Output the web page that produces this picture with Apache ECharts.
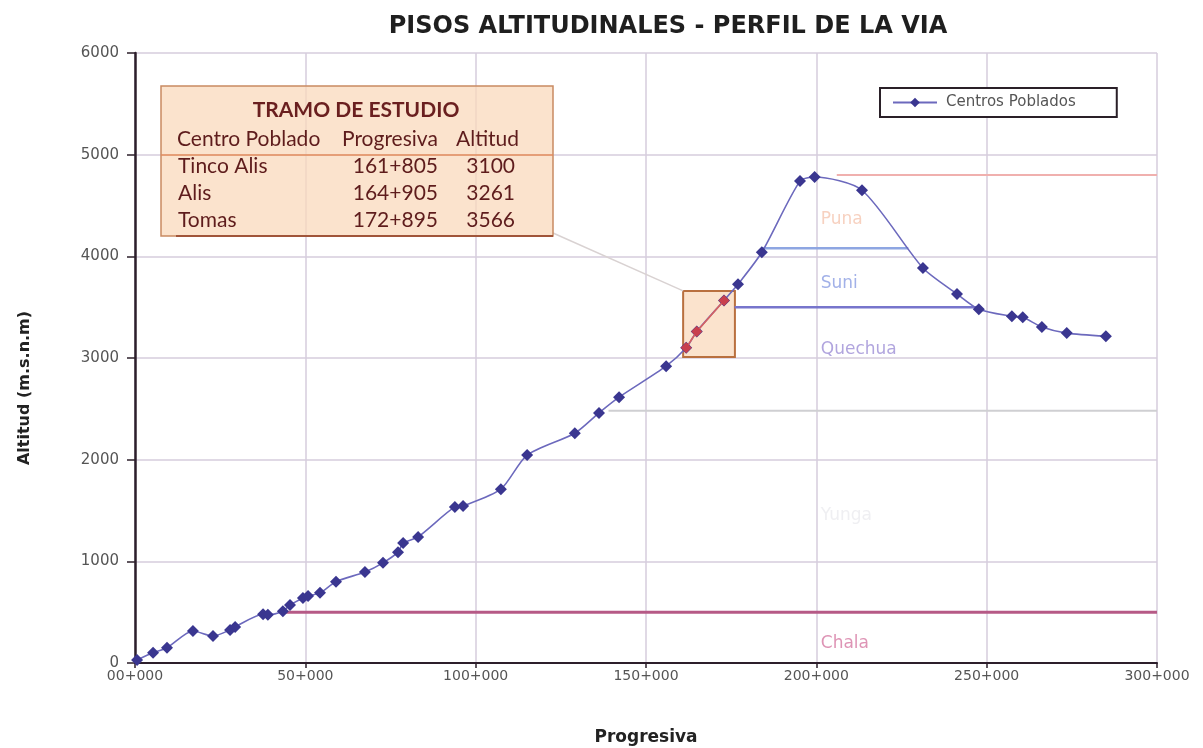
<!DOCTYPE html>
<html>
<head>
<meta charset="utf-8">
<script src="https://cdn.jsdelivr.net/npm/echarts@6/dist/echarts.min.js"></script>
<style>
html,body{margin:0;padding:0;background:#fff;}
#chart{width:1203px;height:748px;}
</style>
</head>
<body>
<div id="chart"></div>
<script>
// ---- data ----
const progresiva = [600, 5300, 9400, 17000, 22900, 27900, 29400, 37600, 39000, 43400, 45500, 49300, 50800, 54300, 59000, 67500, 72800, 77200, 78700, 83100, 93900, 96300, 107400, 115100, 129100, 136200, 142100, 155900, 161805, 164905, 172895, 177000, 184000, 195200, 199500, 213400, 231300, 241300, 247700, 257400, 260600, 266200, 273500, 285000];
const altitud    = [30, 100, 150, 315, 265, 325, 355, 480, 475, 510, 570, 640, 660, 690, 800, 895, 985, 1090, 1180, 1240, 1535, 1545, 1710, 2045, 2260, 2460, 2615, 2920, 3100, 3261, 3566, 3725, 4040, 4740, 4780, 4650, 3885, 3630, 3480, 3410, 3400, 3305, 3245, 3215];

const tramoCentro = ['Tinco Alis', 'Alis', 'Tomas'];
const tramoProgresiva = ['161+805', '164+905', '172+895'];
const tramoAltitud = [3100, 3261, 3566];

const zoneNames = ['Chala', 'Yunga', 'Quechua', 'Suni', 'Puna'];
const zoneAlt   = [500, 2480, 3500, 4080, 4800];
const zoneFrom  = [43000, 139000, 176000, 184000, 206000];
const zoneTo    = [300000, 300000, 248000, 227000, 300000];
const zoneLabelAlt = [190, 1450, 3080, 3730, 4360];

const xTicks = [0, 50000, 100000, 150000, 200000, 250000, 300000];

// ---- styles ----
const zoneLineColors = ['#b65a86', '#cfcfd2', '#7775cc', '#8ea6e2', '#f0b0ae'];
const zoneLineWidths = [3, 2, 2.5, 2.5, 2];
const zoneTextColors = ['#d679a3', '#ebebef', '#9d8fd6', '#8b9ee2', '#f5c6b0'];

const parseProg = s => { const p = s.split('+'); return Number(p[0]) * 1000 + Number(p[1]); };
const fmtProg = v => { const km = Math.round(v / 1000); return (km < 10 ? '0' + km : '' + km) + '+000'; };

const chart = echarts.init(document.getElementById('chart'));

const series = [];
zoneNames.forEach((n, i) => {
  series.push({
    name: n, type: 'line', symbol: 'none', silent: true, z: 2,
    lineStyle: { color: zoneLineColors[i], width: zoneLineWidths[i] },
    data: [[zoneFrom[i], zoneAlt[i]], [zoneTo[i], zoneAlt[i]]]
  });
});
series.push({
  name: 'zoneLabels', type: 'scatter', symbolSize: 0, silent: true, z: 3,
  data: zoneNames.map((n, i) => ({
    value: [201300, zoneLabelAlt[i]],
    label: { show: true, position: 'right', distance: 0, formatter: n,
      color: zoneTextColors[i], fontSize: 17, fontFamily: 'DejaVu Sans' }
  }))
});
series.push({
  name: 'Centros Poblados', type: 'line', smooth: 0.25, z: 5,
  symbol: 'diamond', symbolSize: 12,
  itemStyle: { color: '#3a3690' },
  lineStyle: { color: '#6c69bd', width: 1.6 },
  data: progresiva.map((p, i) => [p, altitud[i]])
});
series.push({
  name: 'Tramo', type: 'line', z: 6,
  symbol: 'diamond', symbolSize: 11,
  itemStyle: { color: '#c8404e' },
  lineStyle: { color: '#d9605e', width: 1.6 },
  data: tramoProgresiva.map((p, i) => [parseProg(p), tramoAltitud[i]]),
  markArea: {
    silent: true,
    itemStyle: { color: 'rgba(250,218,188,0.75)', borderColor: '#b9703f', borderWidth: 2 },
    data: [[{ coord: [160900, 3010] }, { coord: [176100, 3660] }]]
  }
});

const tableFont = '21px Lato';
const tcol = '#5e1c1c';
const graphic = [
  { type: 'text', z: 22, x: 25, y: 388, rotation: Math.PI / 2,
    style: { text: 'Altitud (m.s.n.m)', fill: '#222', font: 'bold 16px "DejaVu Sans"', textAlign: 'center', textVerticalAlign: 'middle' } },
  { type: 'rect', x: 161, y: 86, shape: { width: 392, height: 150 }, z: 20,
    style: { fill: 'rgba(250,216,186,0.72)', stroke: '#c98a62', lineWidth: 1.5 } },
  { type: 'line', z: 21, shape: { x1: 161, y1: 155, x2: 553, y2: 155 }, style: { stroke: '#e08a5c', lineWidth: 1.5 } },
  { type: 'line', z: 21, shape: { x1: 176, y1: 236, x2: 553, y2: 236 }, style: { stroke: '#a0553a', lineWidth: 2 } },
  { type: 'text', z: 22, x: 356, y: 110, style: { text: 'TRAMO DE ESTUDIO', fill: '#6a1f1f', font: 'bold 21px Lato', textAlign: 'center', textVerticalAlign: 'middle' } },
  { type: 'text', z: 22, x: 177, y: 139, style: { text: 'Centro Poblado', fill: tcol, font: tableFont, textAlign: 'left', textVerticalAlign: 'middle' } },
  { type: 'text', z: 22, x: 342, y: 139, style: { text: 'Progresiva', fill: tcol, font: tableFont, textAlign: 'left', textVerticalAlign: 'middle' } },
  { type: 'text', z: 22, x: 456, y: 139, style: { text: 'Altitud', fill: tcol, font: tableFont, textAlign: 'left', textVerticalAlign: 'middle' } }
];
const rowY = [166, 193, 220];
tramoCentro.forEach((c, i) => {
  graphic.push({ type: 'text', z: 22, x: 178, y: rowY[i], style: { text: c, fill: tcol, font: tableFont, textAlign: 'left', textVerticalAlign: 'middle' } });
  graphic.push({ type: 'text', z: 22, x: 438, y: rowY[i], style: { text: tramoProgresiva[i], fill: tcol, font: tableFont, textAlign: 'right', textVerticalAlign: 'middle' } });
  graphic.push({ type: 'text', z: 22, x: 515, y: rowY[i], style: { text: String(tramoAltitud[i]), fill: tcol, font: tableFont, textAlign: 'right', textVerticalAlign: 'middle' } });
});

const option = {
  animation: false,
  backgroundColor: '#fff',
  title: {
    text: 'PISOS ALTITUDINALES - PERFIL DE LA VIA',
    left: 663, top: 10, textAlign: 'center',
    textStyle: { fontFamily: 'DejaVu Sans', fontWeight: 'bold', fontSize: 24, color: '#1f1f1f' }
  },
  legend: {
    data: ['Centros Poblados'],
    left: 880, top: 88,
    padding: [7, 41, 7, 12],
    itemWidth: 44, itemHeight: 12, itemGap: 6,
    borderColor: '#2a2028', borderWidth: 2, borderRadius: 0,
    backgroundColor: '#fff',
    textStyle: { fontFamily: 'DejaVu Sans', fontSize: 15, color: '#555', padding: [0, 0, 0, 4] }
  },
  grid: { left: 135, right: 46, top: 53, bottom: 85, containLabel: false, outerBoundsMode: 'none' },
  xAxis: {
    type: 'value', min: 0, max: 300000, interval: 50000,
    name: 'Progresiva', nameLocation: 'middle', nameGap: 66,
    nameTextStyle: { fontFamily: 'DejaVu Sans', fontWeight: 'bold', fontSize: 17, color: '#222' },
    axisLine: { show: true, lineStyle: { color: '#2d1f2b', width: 2 } },
    axisTick: { show: true, length: 5, lineStyle: { color: '#2d1f2b', width: 1.5 } },
    axisLabel: { formatter: v => xTicks.includes(v) ? fmtProg(v) : '', margin: 6, fontFamily: 'DejaVu Sans', fontSize: 14, color: '#555' },
    splitLine: { show: true, lineStyle: { color: '#d6ccdc', width: 1.5 } }
  },
  yAxis: {
    type: 'value', min: 0, max: 6000, interval: 1000,
    axisLine: { show: true, lineStyle: { color: '#2d1f2b', width: 2.5 } },
    axisTick: { show: true, length: 8, lineStyle: { color: '#2d1f2b', width: 1.5 } },
    axisLabel: { formatter: v => String(v), margin: 16, fontFamily: 'DejaVu Sans', fontSize: 15, color: '#555' },
    splitLine: { show: true, lineStyle: { color: '#d6ccdc', width: 1.5 } }
  },
  series: series,
  graphic: graphic
};
chart.setOption(option);

// connector from table box to the highlighted tramo area
const corner = chart.convertToPixel({ gridIndex: 0 }, [160900, 3660]);
graphic.unshift({ type: 'line', z: 1, shape: { x1: 553, y1: 233, x2: corner[0], y2: corner[1] }, style: { stroke: '#d9d2d2', lineWidth: 1.5 } });
chart.setOption({ graphic: graphic }, { replaceMerge: ['graphic'] });
</script>
</body>
</html>
